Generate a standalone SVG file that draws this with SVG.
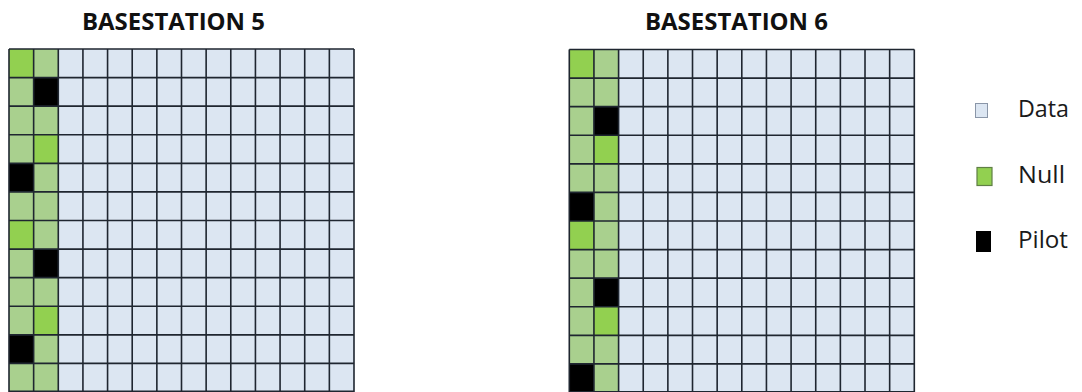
<svg xmlns="http://www.w3.org/2000/svg" width="1082" height="392" viewBox="0 0 1082 392">
  <style>
    .title { font-family: "Open Sans", "Liberation Sans", sans-serif; font-weight: bold; font-size: 23px; fill: #111; }
    .leg { font-family: "Open Sans", "Liberation Sans", sans-serif; font-size: 23px; fill: #1a1a1a; }
    .data { fill: #dce6f2; }
    .light { fill: #a9d08e; }
    .bright { fill: #92d050; }
    .pilot { fill: #000; }
    .lines { fill: none; stroke: #1f2630; stroke-width: 1.6; }
  </style>
  <defs>
    <path id="gridlines" class="lines" d="M0 0V343M24.64 0V343M49.29 0V343M73.93 0V343M98.57 0V343M123.21 0V343M147.86 0V343M172.5 0V343M197.14 0V343M221.79 0V343M246.43 0V343M271.07 0V343M295.71 0V343M320.36 0V343M345 0V343M0 0H345M0 28.58H345M0 57.17H345M0 85.75H345M0 114.33H345M0 142.92H345M0 171.5H345M0 200.08H345M0 228.67H345M0 257.25H345M0 285.83H345M0 314.42H345M0 342.2H345"/>
  </defs>
  <rect width="1082" height="392" fill="#fff"/>

  <g id="basestation5">
    <text class="title" x="82" y="30" textLength="183" lengthAdjust="spacingAndGlyphs">BASESTATION 5</text>
    <g transform="translate(9,49)">
      <rect class="data" x="0" y="0" width="345" height="343"/>
      <rect class="light" x="0" y="0" width="49.29" height="343"/>
      <rect class="bright" x="0" y="0" width="24.64" height="28.58"/>
      <rect class="bright" x="0" y="171.5" width="24.64" height="28.58"/>
      <rect class="pilot" x="0" y="114.33" width="24.64" height="28.58"/>
      <rect class="pilot" x="0" y="285.83" width="24.64" height="28.58"/>
      <rect class="pilot" x="24.64" y="28.58" width="24.64" height="28.58"/>
      <rect class="pilot" x="24.64" y="200.08" width="24.64" height="28.58"/>
      <rect class="bright" x="24.64" y="85.75" width="24.64" height="28.58"/>
      <rect class="bright" x="24.64" y="257.25" width="24.64" height="28.58"/>
      <use href="#gridlines"/>
    </g>
  </g>

  <g id="basestation6">
    <text class="title" x="645" y="30" textLength="183" lengthAdjust="spacingAndGlyphs">BASESTATION 6</text>
    <g transform="translate(569.3,49.5)">
      <rect class="data" x="0" y="0" width="345" height="343"/>
      <rect class="light" x="0" y="0" width="49.29" height="343"/>
      <rect class="bright" x="0" y="0" width="24.64" height="28.58"/>
      <rect class="bright" x="0" y="171.5" width="24.64" height="28.58"/>
      <rect class="pilot" x="0" y="142.92" width="24.64" height="28.58"/>
      <rect class="pilot" x="0" y="314.42" width="24.64" height="28.58"/>
      <rect class="pilot" x="24.64" y="57.17" width="24.64" height="28.58"/>
      <rect class="pilot" x="24.64" y="228.67" width="24.64" height="28.58"/>
      <rect class="bright" x="24.64" y="85.75" width="24.64" height="28.58"/>
      <rect class="bright" x="24.64" y="257.25" width="24.64" height="28.58"/>
      <use href="#gridlines"/>
    </g>
  </g>

  <g id="legend">
    <g id="legend-data">
      <rect x="975.5" y="103.5" width="12" height="14" fill="#dce6f2" stroke="#8a96a8" stroke-width="1"/>
      <text class="leg" x="1018" y="117" textLength="51" lengthAdjust="spacingAndGlyphs">Data</text>
    </g>
    <g id="legend-null">
      <rect x="977" y="167.5" width="15" height="18" fill="#92d050" stroke="#5f7f45" stroke-width="1.2"/>
      <text class="leg" x="1018" y="183" textLength="47" lengthAdjust="spacingAndGlyphs">Null</text>
    </g>
    <g id="legend-pilot">
      <rect x="976" y="231" width="15" height="21" fill="#000"/>
      <text class="leg" x="1018" y="248" textLength="50" lengthAdjust="spacingAndGlyphs">Pilot</text>
    </g>
  </g>
</svg>
